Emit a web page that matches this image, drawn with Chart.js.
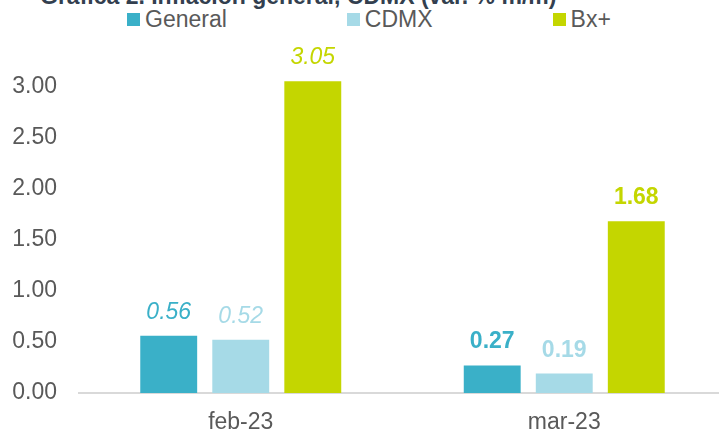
<!DOCTYPE html>
<html lang="es">
<head>
    <meta charset="UTF-8">
    <title>Gráfica 2. Inflación general, CDMX</title>
    <script src="https://cdn.jsdelivr.net/npm/chart.js"></script>
    <style>
        body { margin: 0; overflow: hidden; background: #fff; font-family: "Liberation Sans", Arial, sans-serif; }
        #wrap { position: relative; width: 726px; height: 450px; }
        #chartBox { position: absolute; left: 0; top: 0; width: 726px; height: 450px; }
        #title { position: absolute; left: 40px; top: -15.5px; line-height: 23px; font-size: 23px; font-weight: bold; color: #333F4F; white-space: nowrap; }
        #legend { position: absolute; left: 127px; top: 8px; display: flex; gap: 120px; font-size: 23px; line-height: 23px; color: #595959; }
        #legend span.item { display: flex; align-items: center; }
        #legend span.box { display: inline-block; width: 13px; height: 13px; margin-right: 5px; }
    </style>
</head>
<body>
<div id="wrap">
    <div id="title">Gráfica 2. Inflación general, CDMX (var. % m/m)</div>
    <div id="legend"></div>
    <div id="chartBox"><canvas id="inflChart"></canvas></div>
</div>

<script>
    // datos
    const categorias = ['feb-23', 'mar-23'];
    const series = ['General', 'CDMX', 'Bx+'];
    const general = [0.56, 0.27];
    const cdmx = [0.52, 0.19];
    const bxmas = [3.05, 1.68];
    const colores = ['#3AB0C8', '#A6DAE7', '#C4D600'];

    // estilo de etiquetas por categoría (feb en cursiva, mar en negrita)
    const estiloEtiqueta = ['italic 23px "Liberation Sans", Arial', 'bold 23px "Liberation Sans", Arial'];

    // leyenda en HTML
    const legendEl = document.getElementById('legend');
    series.forEach((s, i) => {
        const item = document.createElement('span');
        item.className = 'item';
        const box = document.createElement('span');
        box.className = 'box';
        box.style.background = colores[i];
        item.appendChild(box);
        item.appendChild(document.createTextNode(s));
        legendEl.appendChild(item);
    });

    // etiquetas de valor sobre las barras
    const etiquetas = {
        id: 'etiquetas',
        afterDatasetsDraw(chart) {
            const ctx = chart.ctx;
            ctx.save();
            ctx.textAlign = 'center';
            ctx.textBaseline = 'alphabetic';
            chart.data.datasets.forEach((ds, di) => {
                const meta = chart.getDatasetMeta(di);
                meta.data.forEach((bar, i) => {
                    ctx.font = estiloEtiqueta[i];
                    ctx.fillStyle = colores[di];
                    ctx.fillText(ds.data[i].toFixed(2), bar.x, bar.y - 17);
                });
            });
            ctx.restore();
        }
    };

    const valores = [general, cdmx, bxmas];
    const ctx = document.getElementById('inflChart').getContext('2d');
    new Chart(ctx, {
        type: 'bar',
        data: {
            labels: categorias,
            datasets: series.map((s, i) => ({
                label: s,
                data: valores[i],
                backgroundColor: colores[i],
                categoryPercentage: 0.668,
                barPercentage: 0.79
            }))
        },
        options: {
            responsive: true,
            maintainAspectRatio: false,
            animation: false,
            layout: { padding: { top: 35.3, left: 0, right: 0, bottom: 0 } },
            plugins: {
                legend: { display: false },
                title: { display: false },
                tooltip: { enabled: false }
            },
            scales: {
                x: {
                    grid: { display: false },
                    border: { display: true, color: '#D9D9D9', width: 2 },
                    ticks: { color: '#595959', font: { family: '"Liberation Sans", Arial', size: 23 }, padding: 8 },
                    afterFit: (scale) => { scale.height = 57; }
                },
                y: {
                    min: 0,
                    max: 3.5,
                    grid: { display: false },
                    border: { display: false },
                    ticks: {
                        stepSize: 0.5,
                        padding: 14,
                        color: '#595959',
                        font: { family: '"Liberation Sans", Arial', size: 23 },
                        callback: (v) => v >= 3.5 ? '' : v.toFixed(2)
                    },
                    afterFit: (scale) => { scale.width = 79; }
                }
            }
        },
        plugins: [etiquetas]
    });
</script>
</body>
</html>
